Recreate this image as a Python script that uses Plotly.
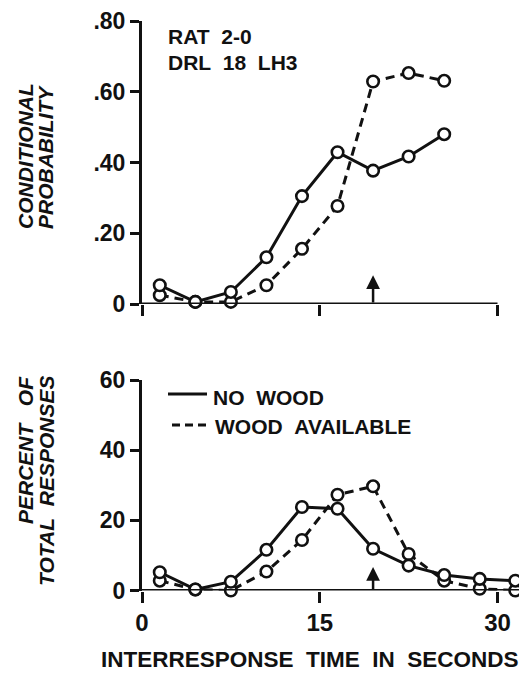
import plotly.graph_objects as go

# ── datos ───────────────────────────────────────────────────────────────────
X_TOP = [1.5, 4.5, 7.5, 10.5, 13.5, 16.5, 19.5, 22.5, 25.5]
PROB_NO_WOOD = [0.053, 0.006, 0.034, 0.132, 0.305, 0.429, 0.377, 0.417, 0.480]
PROB_WOOD = [0.025, 0.006, 0.006, 0.053, 0.156, 0.277, 0.629, 0.653, 0.631]

X_BOT = [1.5, 4.5, 7.5, 10.5, 13.5, 16.5, 19.5, 22.5, 25.5, 28.5, 31.5]
PCT_NO_WOOD = [5.2, 0.3, 2.5, 11.6, 23.8, 23.3, 11.9, 7.1, 4.4, 3.3, 2.8]
PCT_WOOD = [2.8, 0.3, 0.0, 5.4, 14.4, 27.3, 29.7, 10.4, 2.8, 0.5, 0.0]

X_TICKS = [0, 15, 30]
PROB_TICKS = [0, 0.2, 0.4, 0.6, 0.8]
PROB_LABELS = ["0", ".20", ".40", ".60", ".80"]
PCT_TICKS = [0, 20, 40, 60]

ARROW_X = 19.5
ARROW_TOP = 0.081
ARROW_BOT = 6.7

# ── estilo ──────────────────────────────────────────────────────────────────
W, H = 527, 693
OFF = 8                      # margen por defecto del <body> de la página
L_MARG, R_MARG = 134, 10
PLOT_W = W - L_MARG - R_MARG
FONT = "Liberation Sans, Arial, sans-serif"
NEGRO = "#111111"
DASH = "9px,6px"


def py(px):
    """pixel vertical de la captura -> coordenada paper (márgenes t=b=0)."""
    return 1 - (px - OFF) / H


def pxx(px):
    """pixel horizontal de la captura -> coordenada paper."""
    return (px - OFF - L_MARG) / PLOT_W


def serie(x, y, dash, xa, ya):
    return go.Scatter(
        x=x, y=y, xaxis=xa, yaxis=ya,
        mode="lines+markers",
        line=dict(color=NEGRO, width=3, dash=dash),
        marker=dict(symbol="circle", size=11.5, color="white",
                    line=dict(color=NEGRO, width=2.6)),
        cliponaxis=False,
        showlegend=False,
    )


fig = go.Figure()
fig.add_trace(serie(X_TOP, PROB_WOOD, DASH, "x", "y"))
fig.add_trace(serie(X_TOP, PROB_NO_WOOD, "solid", "x", "y"))
fig.add_trace(serie(X_BOT, PCT_WOOD, DASH, "x2", "y2"))
fig.add_trace(serie(X_BOT, PCT_NO_WOOD, "solid", "x2", "y2"))

eje_x = dict(
    range=[0, 32.32], showgrid=False, zeroline=False, showline=False,
    automargin=False,
    tickvals=X_TICKS, ticks="outside", ticklen=11, tickwidth=3, tickcolor=NEGRO,
)
eje_y = dict(
    showgrid=False, zeroline=False, showline=True, linewidth=3, linecolor=NEGRO,
    automargin=False, ticklabeloverflow="allow",
    ticks="outside", ticklen=9, tickwidth=3, tickcolor=NEGRO,
    tickfont=dict(family=FONT, size=23, color=NEGRO, weight="bold"),
)

fig.update_layout(
    width=W, height=H,
    margin=dict(l=L_MARG, r=R_MARG, t=0, b=0, autoexpand=False),
    paper_bgcolor="white", plot_bgcolor="white",
    xaxis=dict(**eje_x, domain=[0, 1], anchor="y", showticklabels=False),
    yaxis=dict(**eje_y, domain=[py(304), py(21)], anchor="x",
               range=[0, 0.8001], tickvals=PROB_TICKS, ticktext=PROB_LABELS),
    xaxis2=dict(**eje_x, domain=[0, 1], anchor="y2",
                tickfont=dict(family=FONT, size=24, color=NEGRO, weight="bold")),
    yaxis2=dict(**eje_y, domain=[py(590.5), py(380)], anchor="x2",
                range=[0, 60.01], tickvals=PCT_TICKS),
)

# líneas del eje x (la superior termina en 30)
fig.add_shape(type="line", xref="x", yref="y", x0=0, x1=30, y0=0, y1=0,
              line=dict(color=NEGRO, width=3))
fig.add_shape(type="line", xref="x2", yref="y2", x0=0, x1=32.0, y0=0, y1=0,
              line=dict(color=NEGRO, width=3))

# flechas en el criterio DRL
for xr, yr, tope in (("x", "y", ARROW_TOP), ("x2", "y2", ARROW_BOT)):
    fig.add_annotation(
        x=ARROW_X, y=tope, ax=ARROW_X, ay=0, xref=xr, yref=yr, axref=xr, ayref=yr,
        text="", showarrow=True, arrowhead=2, arrowsize=1.1, arrowwidth=2.5,
        arrowcolor=NEGRO,
    )

# leyenda dibujada a mano
fig.add_shape(type="line", xref="paper", yref="paper",
              x0=pxx(168), x1=pxx(207), y0=py(394), y1=py(394),
              line=dict(color=NEGRO, width=3))
fig.add_shape(type="line", xref="paper", yref="paper",
              x0=pxx(172), x1=pxx(207), y0=py(425), y1=py(425),
              line=dict(color=NEGRO, width=3, dash="8px,5px"))

txt = dict(xref="paper", yref="paper", showarrow=False, xanchor="left",
           yanchor="middle", font=dict(family=FONT, size=21, color=NEGRO, weight="bold"))
fig.add_annotation(x=pxx(211), y=py(397), text="NO\u00a0\u00a0WOOD", **txt)
fig.add_annotation(x=pxx(213), y=py(426), text="WOOD\u00a0\u00a0AVAILABLE", **txt)
fig.add_annotation(x=pxx(166), y=py(36), text="RAT\u00a0\u00a02-0", **txt)
fig.add_annotation(x=pxx(166), y=py(62), text="DRL\u00a0\u00a018\u00a0\u00a0LH3", **txt)

# título del eje x
fig.add_annotation(
    xref="paper", yref="paper", x=pxx(310), y=py(674), showarrow=False,
    text="INTERRESPONSE\u00a0\u00a0TIME\u00a0\u00a0IN\u00a0\u00a0SECONDS",
    font=dict(family=FONT, size=22.5, color=NEGRO, weight="bold"),
)

# títulos de los ejes y, en cursiva
tit = dict(xref="paper", yref="paper", showarrow=False, textangle=-90,
           xanchor="center",
           font=dict(family=FONT, size=21, color=NEGRO, weight="bold", style="italic"))
fig.add_annotation(x=pxx(26), y=py(231), yanchor="bottom", text="CONDITIONAL", **tit)
fig.add_annotation(x=pxx(46), y=py(231), yanchor="bottom", text="PROBABILITY", **tit)
fig.add_annotation(x=pxx(25), y=py(374), yanchor="top",
                   text="PERCENT\u00a0\u00a0\u00a0OF", **tit)
fig.add_annotation(x=pxx(46), y=py(374), yanchor="top", text="TOTAL\u00a0\u00a0RESPONSES", **tit)

fig.write_html("out.html")
